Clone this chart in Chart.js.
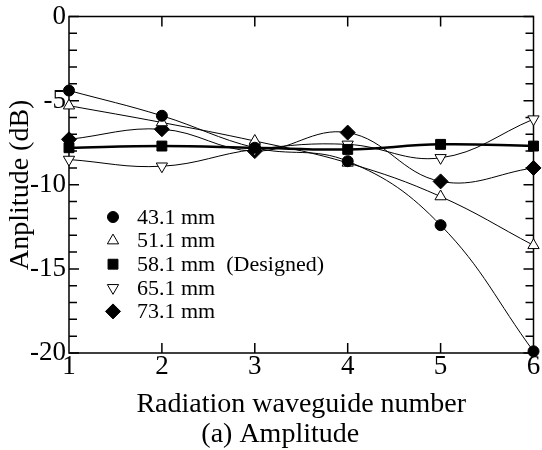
<!DOCTYPE html>
<html lang="en">
<head>
<meta charset="UTF-8">
<title>Amplitude</title>
<script src="https://cdn.jsdelivr.net/npm/chart.js"></script>
</head>
<body style="margin:0; background:#fff;">
<div style="width:542px; height:450px;">
  <canvas id="myChart"></canvas>
</div>
<script>
// data
const guideNo = ['1', '2', '3', '4', '5', '6'];
const names = ['43.1 mm', '51.1 mm', '58.1 mm  (Designed)', '65.1 mm', '73.1 mm'];
const amp431 = [-4.4, -5.9, -7.8, -8.6, -12.4, -19.9];
const amp511 = [-5.3, -6.3, -7.4, -8.7, -10.7, -13.6];
const amp581 = [-7.8, -7.7, -7.8, -7.9, -7.6, -7.7];
const amp651 = [-8.5, -8.9, -7.9, -7.6, -8.4, -6.1];
const amp731 = [-7.3, -6.7, -8.0, -6.9, -9.8, -9.0];

const serif = "'Liberation Serif', 'Times New Roman', serif";

function series(label, data, style, fill, radius, rot, width) {
  return {
    label: label,
    data: data,
    borderColor: '#000',
    borderWidth: width,
    tension: 0.4,
    pointStyle: style,
    pointRotation: rot,
    pointRadius: radius,
    pointBackgroundColor: fill,
    pointBorderColor: '#000',
    pointBorderWidth: 1,
    clip: false
  };
}

// box + inward ticks
const frameTicks = {
  id: 'frameTicks',
  beforeDatasetsDraw(chart) {
    const ctx = chart.ctx;
    const a = chart.chartArea;
    const xs = chart.scales.x, ys = chart.scales.y;
    ctx.save();
    ctx.strokeStyle = '#000';
    ctx.lineWidth = 1.5;
    ctx.strokeRect(a.left, a.top, a.right - a.left, a.bottom - a.top);
    ctx.beginPath();
    for (let v = -20; v <= 0; v++) {
      const y = ys.getPixelForValue(v);
      const len = (v % 5 === 0) ? 10 : 8;
      ctx.moveTo(a.left, y); ctx.lineTo(a.left + len, y);
      ctx.moveTo(a.right, y); ctx.lineTo(a.right - len, y);
    }
    for (let i = 1; i < guideNo.length - 1; i++) {
      const x = xs.getPixelForValue(i);
      ctx.moveTo(x, a.top); ctx.lineTo(x, a.top + 10);
      ctx.moveTo(x, a.bottom); ctx.lineTo(x, a.bottom - 10);
    }
    ctx.stroke();
    ctx.restore();
  }
};

// legend inside the plot
const innerLegend = {
  id: 'innerLegend',
  afterDraw(chart) {
    const ctx = chart.ctx;
    ctx.save();
    ctx.font = '22px ' + serif;
    ctx.textBaseline = 'middle';
    chart.data.datasets.forEach((ds, i) => {
      const y = 217 + i * 23.6;
      ctx.fillStyle = ds.pointBackgroundColor;
      ctx.strokeStyle = '#000';
      ctx.lineWidth = 1;
      Chart.helpers.drawPoint(ctx, {
        pointStyle: ds.pointStyle,
        rotation: ds.pointRotation,
        radius: ds.pointRadius,
        borderWidth: 1
      }, 113, y);
      ctx.fillStyle = '#000';
      ctx.fillText(ds.label, 137, y + 1);
    });
    ctx.restore();
  }
};

new Chart(document.getElementById('myChart'), {
  type: 'line',
  data: {
    labels: guideNo,
    datasets: [
      series(names[0], amp431, 'circle', '#000', 5.5, 0, 1),
      series(names[1], amp511, 'triangle', '#fff', 6.5, 0, 1),
      series(names[2], amp581, 'rect', '#000', 7, 0, 2.5),
      series(names[3], amp651, 'triangle', '#fff', 6.5, 180, 1),
      series(names[4], amp731, 'rectRot', '#000', 7.5, 0, 1)
    ]
  },
  options: {
    responsive: true,
    maintainAspectRatio: false,
    animation: false,
    layout: { padding: { top: 10, right: 4, left: 0, bottom: 0 } },
    plugins: {
      legend: { display: false },
      tooltip: { enabled: false }
    },
    scales: {
      x: {
        offset: false,
        grid: { display: false, drawTicks: false },
        border: { display: false },
        ticks: {
          color: '#000',
          padding: 0,
          maxRotation: 0,
          font: { family: serif, size: 27, lineHeight: 1 }
        },
        title: {
          display: true,
          text: ['Radiation waveguide number', '(a) Amplitude      '],
          color: '#000',
          padding: { top: 10, bottom: 0 },
          font: { family: serif, size: 28, lineHeight: '30px' }
        },
        afterFit(scale) {
          scale.paddingLeft = 0;
          scale.paddingRight = 0;
        }
      },
      y: {
        min: -20,
        max: 0,
        grid: { display: false, drawTicks: false },
        border: { display: false },
        ticks: {
          stepSize: 5,
          color: '#000',
          padding: 3,
          font: { family: serif, size: 27, lineHeight: 1 }
        },
        title: {
          display: true,
          text: 'Anplitude (dB)',
          color: '#000',
          padding: { top: 7, bottom: -8 },
          font: { family: serif, size: 28, lineHeight: 1 }
        }
      }
    }
  },
  plugins: [frameTicks, innerLegend]
});
</script>
</body>
</html>
